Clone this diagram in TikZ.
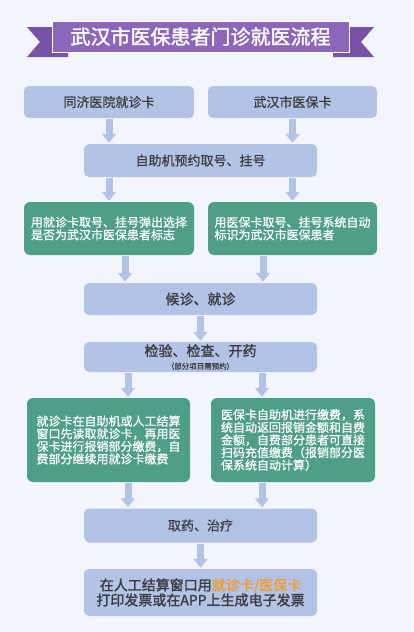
\documentclass[tikz,border=0pt]{standalone}
\usepackage{fontspec}
\setmainfont{Noto Sans CJK SC}
\newfontfamily\negrita[FakeBold=1.6]{Noto Sans CJK SC}
\newfontfamily\media[FakeBold=0.7]{Noto Sans CJK SC}
\usetikzlibrary{arrows.meta,calc}
\definecolor{fondo}{HTML}{F2F6FC}
\definecolor{lila}{HTML}{8C66B8}
\definecolor{lilaosc}{HTML}{7852A6}
\definecolor{celeste}{HTML}{B3C3E5}
\definecolor{verde}{HTML}{4F9E88}
\definecolor{tinta}{HTML}{3C3D42}
\definecolor{naranja}{HTML}{F29A2E}
\tikzset{
  caja/.style={rectangle,rounded corners=5pt,fill=celeste,text=tinta,inner sep=0pt,align=center,minimum width=233pt,font=\fontsize{13}{15}\media},
  cajaverde/.style={rectangle,rounded corners=6pt,fill=verde,text=white,inner sep=0pt,align=left,font=\fontsize{12}{12.6}\media},
  titulo/.style={rectangle,fill=lila,draw=white,line width=1pt,text=white,minimum width=297pt,minimum height=31pt,font=\fontsize{20}{22}\negrita},
  cola/.style={fill=lilaosc},
  flecha/.style={draw=celeste,line width=7pt,-{Triangle[width=14pt,length=9pt]},shorten <=1pt,shorten >=1pt},
}

\begin{document}
\begin{tikzpicture}[x=1pt,y=-1pt]
\fill[fondo] (0,0) rectangle (413,632);
% cinta del titulo
\fill[cola] (27,27) -- (68,27) -- (68,57) -- (27,57) -- (40,42) -- cycle;
\fill[cola] (374,27) -- (333,27) -- (333,57) -- (374,57) -- (361,42) -- cycle;
\node[titulo] (tit) at (200.5,36.5) {武汉市医保患者门诊就医流程};
% cajas
\node[caja,minimum width=170pt,minimum height=32pt] (b1) at (109,102) {同济医院就诊卡};
\node[caja,minimum width=169pt,minimum height=32pt] (b2) at (292.5,102) {武汉市医保卡};
\node[caja,minimum height=33pt] (b3) at (200.5,160.5) {自助机预约取号、挂号};
\node[cajaverde,minimum width=170pt,minimum height=53pt] (b4) at (109,228.5) {用就诊卡取号、挂号弹出选择\\是否为武汉市医保患者标志};
\node[cajaverde,minimum width=169pt,minimum height=53pt] (b5) at (292.5,228.5) {用医保卡取号、挂号系统自动\\标识为武汉市医保患者};
\node[caja,minimum height=32pt,font=\fontsize{14}{16}\negrita] (b6) at (200.5,299) {候诊、就诊};
\node[caja,minimum height=30pt,font=\fontsize{14}{13}\negrita] (b7) at (200.5,357) {检验、检查、开药\\{\fontsize{7.5}{8}\media（部分项目需预约）}};
\node[cajaverde,minimum width=163pt,minimum height=84pt] (b8) at (108.5,440) {就诊卡在自助机或人工结算\\窗口先读取就诊卡，再用医\\保卡进行报销部分缴费，自\\费部分继续用就诊卡缴费};
\node[cajaverde,minimum width=164pt,minimum height=84pt] (b9) at (293,440) {医保卡自助机进行缴费，系\\统自动返回报销金额和自费\\金额，自费部分患者可直接\\扫码充值缴费（报销部分医\\保系统自动计算）};
\node[caja,minimum height=34pt] (b10) at (200.5,525.5) {取药、治疗};
\node[caja,minimum height=47pt,font=\fontsize{14}{15}\negrita] (b11) at (200.5,592.5) {在人工结算窗口用\textcolor{naranja}{就诊卡/医保卡}\\打印发票或在APP上生成电子发票};
% puntos de salida
\coordinate (f1) at ([xshift=16pt]b4.south);
\coordinate (f2) at ([xshift=-29.5pt]b5.south);
\coordinate (f3) at ([xshift=-72.5pt]b7.south);
\coordinate (f4) at ([xshift=61.5pt]b7.south);
\coordinate (f5) at ([xshift=19.5pt]b8.south);
\coordinate (f6) at ([xshift=-31pt]b9.south);
% flechas
\draw[flecha] (b1.south) -- (b1.south |- b3.north);
\draw[flecha] (b2.south) -- (b2.south |- b3.north);
\draw[flecha] (b4.north |- b3.south) -- (b4.north);
\draw[flecha] (b5.north |- b3.south) -- (b5.north);
\draw[flecha] (f1) -- (f1 |- b6.north);
\draw[flecha] (f2) -- (f2 |- b6.north);
\draw[flecha] (b6.south) -- (b7.north);
\draw[flecha] (f3) -- (f3 |- b8.north);
\draw[flecha] (f4) -- (f4 |- b9.north);
\draw[flecha] (f5) -- (f5 |- b10.north);
\draw[flecha] (f6) -- (f6 |- b10.north);
\draw[flecha] (b10.south) -- (b11.north);
\end{tikzpicture}
\end{document}
